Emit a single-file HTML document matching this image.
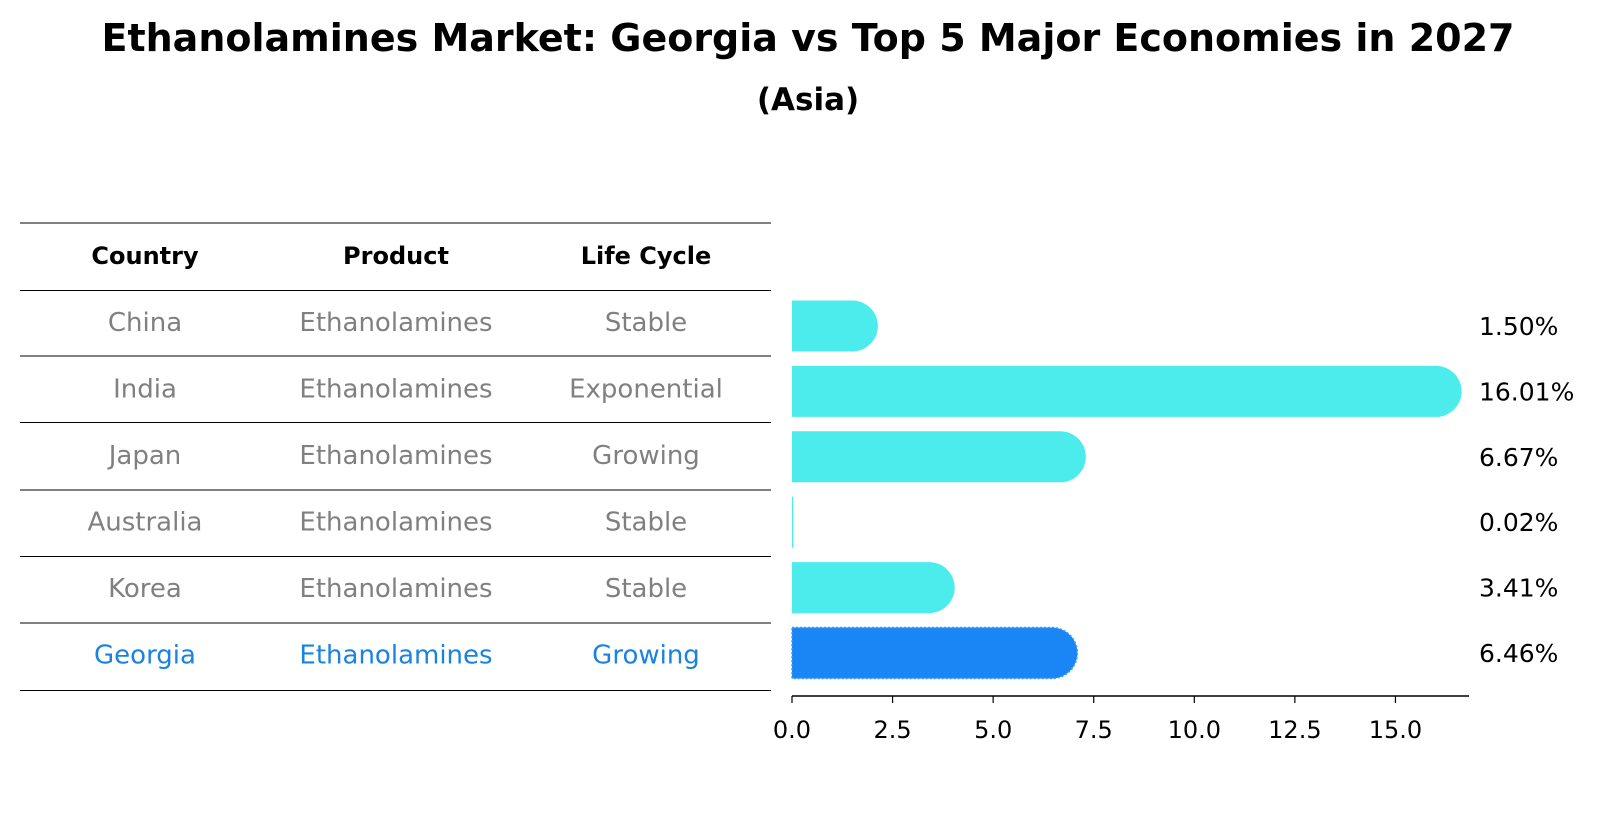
<!DOCTYPE html>
<html><head><meta charset="utf-8"><style>
body{margin:0;background:#fff;}
svg text{font-family:"DejaVu Sans","Liberation Sans",sans-serif;}
</style></head><body>
<svg id="c" width="1604" height="823" xmlns="http://www.w3.org/2000/svg">
<text x="808" y="51" text-anchor="middle" font-size="38" font-weight="bold">Ethanolamines Market: Georgia vs Top 5 Major Economies in 2027</text>
<text x="808" y="110" text-anchor="middle" font-size="31" font-weight="bold">(Asia)</text>
<g id="table"></g>
<g id="bars"></g>
</svg>
<script>
const countries=["China","India","Japan","Australia","Korea","Georgia"];
const products=["Ethanolamines","Ethanolamines","Ethanolamines","Ethanolamines","Ethanolamines","Ethanolamines"];
const lifeCycles=["Stable","Exponential","Growing","Stable","Stable","Growing"];
const values=[1.50,16.01,6.67,0.02,3.41,6.46];
const valueLabels=["1.50%","16.01%","6.67%","0.02%","3.41%","6.46%"];
const xTicks=[0,2.5,5,7.5,10,12.5,15];
const xTickLabels=["0.0","2.5","5.0","7.5","10.0","12.5","15.0"];

const NS="http://www.w3.org/2000/svg";
function mk(tag,attrs,parent,txt){const e=document.createElementNS(NS,tag);for(const k in attrs)e.setAttribute(k,attrs[k]);if(txt!==undefined)e.textContent=txt;parent.appendChild(e);return e;}
const x=v=>792+v*40.23;
const rowY=i=>322+i*66.5;
const barY=i=>326+i*65.4;
const tbl=document.getElementById('table');
const lineYs=[223,290.5,356,422.5,490,556.5,623,690.5];
lineYs.forEach(y=>{const l=mk('line',{x1:20,x2:771,y1:y,y2:y,stroke:'#000','stroke-width':1},tbl);

});
const colX=[145,396,646];
["Country","Product","Life Cycle"].forEach((h,j)=>{const t=mk('text',{x:colX[j],y:264,'text-anchor':'middle','font-size':24,'font-weight':'bold'},tbl,h);

});
countries.forEach((c,i)=>{
  const col=c==="Georgia"?"#1a82e0":"#808080";
  [c,products[i],lifeCycles[i]].forEach((s,j)=>{const t=mk('text',{x:colX[j],y:rowY(i)+9,'text-anchor':'middle','font-size':26,fill:col},tbl,s);
  
  });
});
const g=document.getElementById('bars');
const h=51,r=25.5;
values.forEach((v,i)=>{
  const cy=barY(i),x0=x(0),x1=x(v);
  const georgia=countries[i]==="Georgia";
  const fill=georgia?"#1a85f5":"#4beceb";
  let d;
  if(v<0.1){d=`M${x0},${cy-h/2}h${Math.max(x1-x0,1.2)}v${h}h${-Math.max(x1-x0,1.2)}z`;}
  else d=`M${x0},${cy-h/2}H${x1}A${r},${r} 0 0 1 ${x1},${cy+h/2}H${x0}Z`;
  const p=mk('path',{d:d,fill:fill},g);
  if(georgia){p.setAttribute('stroke','#3a9cf8');p.setAttribute('stroke-dasharray','2,2');p.setAttribute('stroke-width','1.5');}
  
  
  const t=mk('text',{x:1479,y:cy+9,'font-size':25},g,valueLabels[i]);
  
  
});
const ax=mk('line',{x1:792,x2:1469,y1:696,y2:696,stroke:'#000','stroke-width':1.5},g);


xTicks.forEach((v,i)=>{
  const tk=mk('line',{x1:x(v),x2:x(v),y1:696,y2:703,stroke:'#000','stroke-width':1.2},g);
  
  
  const t=mk('text',{x:x(v),y:738,'text-anchor':'middle','font-size':24},g,xTickLabels[i]);
  
  
});
</script>
</body></html>
